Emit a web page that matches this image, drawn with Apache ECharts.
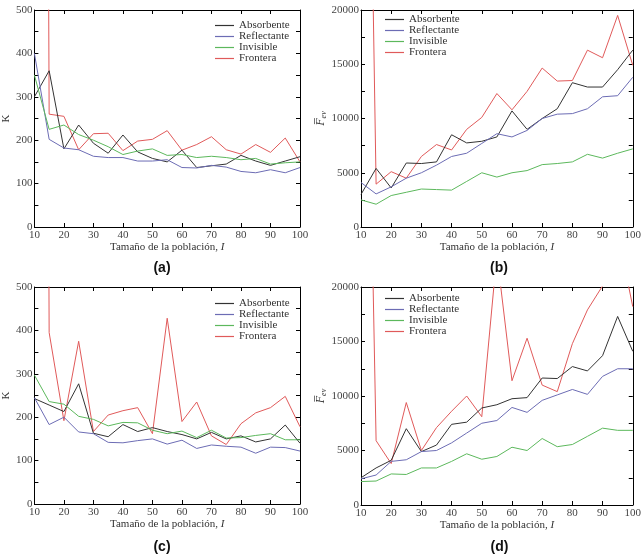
<!DOCTYPE html>
<html>
<head>
<meta charset="utf-8">
<title>Tamaño de la población</title>
<script src="https://cdn.jsdelivr.net/npm/echarts@6/dist/echarts.min.js"></script>
<style>
  html, body { margin: 0; padding: 0; background: #fff; }
  #chart { width: 644px; height: 554px; }
</style>
</head>
<body>
<div id="chart"></div>
<script>
/*******************************************************************/
/****************************** data *******************************/
/*******************************************************************/

// population sizes (x axis, shared by all panels)
const populationSizes = [10, 15, 20, 25, 30, 35, 40, 45, 50, 55, 60, 65, 70, 75, 80, 85, 90, 95, 100];
const seriesNames = ['Absorbente', 'Reflectante', 'Invisible', 'Frontera'];
const panelLabels = ['(a)', '(b)', '(c)', '(d)'];

// panel (a) : K
const absorbenteA = [300, 360, 180, 235, 193, 170, 212, 173, 158, 150, 177, 137, 141, 145, 165, 152, 142, 152, 162];
const reflectanteA = [400, 202, 182, 178, 163, 160, 160, 152, 152, 155, 137, 136, 142, 138, 128, 125, 132, 125, 137];
const invisibleA = [350, 225, 235, 213, 200, 185, 167, 175, 180, 165, 167, 160, 163, 160, 155, 158, 145, 148, 150];
const fronteraA = [8000, 260, 255, 178, 215, 216, 176, 198, 202, 222, 177, 190, 208, 178, 168, 190, 172, 205, 150];

// panel (b) : F_ev
const absorbenteB = [3000, 5400, 3600, 5900, 5850, 6000, 8500, 7750, 7900, 8300, 10700, 9000, 10000, 10900, 13300, 12900, 12900, 14500, 16300];
const reflectanteB = [4100, 3050, 3700, 4500, 5000, 5700, 6500, 6800, 7700, 8600, 8300, 8900, 10000, 10400, 10450, 10900, 12000, 12100, 13800];
const invisibleB = [2500, 2100, 2900, 3200, 3500, 3450, 3400, 4200, 5000, 4600, 5000, 5200, 5750, 5850, 6000, 6700, 6350, 6800, 7200];
const fronteraB = [90000, 3950, 5100, 4500, 6500, 7600, 7100, 9000, 10100, 12300, 10800, 12500, 14650, 13450, 13500, 16300, 15600, 19500, 14900];

// panel (c) : K
const absorbenteC = [243, 228, 213, 277, 163, 155, 183, 167, 176, 167, 160, 150, 165, 150, 157, 143, 150, 182, 140];
const reflectanteC = [245, 183, 200, 166, 162, 142, 141, 146, 150, 138, 147, 128, 136, 133, 131, 117, 131, 130, 122];
const invisibleC = [297, 236, 230, 202, 195, 180, 188, 187, 170, 162, 168, 153, 170, 152, 153, 158, 162, 148, 148];
const fronteraC = [8000, 395, 192, 375, 167, 205, 215, 222, 162, 428, 190, 235, 157, 137, 185, 210, 222, 248, 178];

// panel (d) : F_ev
const absorbenteD = [2500, 3400, 4100, 7000, 4900, 5500, 7400, 7600, 8900, 9200, 9750, 9850, 11650, 11600, 12700, 12300, 13700, 17300, 14100];
const reflectanteD = [2400, 2750, 4000, 4150, 4900, 5000, 5700, 6600, 7500, 7750, 8950, 8500, 9600, 10100, 10600, 10150, 11800, 12500, 12500];
const invisibleD = [2150, 2200, 2850, 2800, 3400, 3400, 4000, 4700, 4200, 4450, 5300, 5000, 6100, 5350, 5550, 6300, 7050, 6850, 6850];
const fronteraD = [78000, 5900, 3800, 9400, 5000, 7100, 8600, 10000, 8100, 23000, 11400, 15300, 11000, 10400, 14800, 17900, 20100, 25000, 18200];

/*******************************************************************/
/***************************** layout ******************************/
/*******************************************************************/

const lineColors = ['#333333', '#6c6cb4', '#5cb85c', '#e05a5a'];
const serif = '"Liberation Serif", "DejaVu Serif", serif';

const panels = [
  { grid: { left: 24, top: 10, width: 276, height: 217 }, yMax: 500, yStep: 50, yLabelStep: 100, yName: 'K',
    legend: { left: 215, top: 20 }, values: [absorbenteA, reflectanteA, invisibleA, fronteraA] },
  { grid: { left: 361, top: 10, width: 276, height: 217 }, yMax: 20000, yStep: 2500, yLabelStep: 5000, yName: 'F',
    legend: { left: 385, top: 14 }, values: [absorbenteB, reflectanteB, invisibleB, fronteraB] },
  { grid: { left: 24, top: 287, width: 276, height: 217 }, yMax: 500, yStep: 50, yLabelStep: 100, yName: 'K',
    legend: { left: 215, top: 298 }, values: [absorbenteC, reflectanteC, invisibleC, fronteraC] },
  { grid: { left: 361, top: 287, width: 277, height: 218 }, yMax: 20000, yStep: 2500, yLabelStep: 5000, yName: 'F',
    legend: { left: 385, top: 293 }, values: [absorbenteD, reflectanteD, invisibleD, fronteraD] },
];

const chart = echarts.init(document.getElementById('chart'), null, { renderer: 'canvas' });

const grids = [];
const xAxes = [];
const yAxes = [];
const series = [];
const legends = [];
const graphics = [];

const axisLine = { show: true, onZero: false, lineStyle: { color: '#000', width: 1 } };
const axisTick = { show: true, inside: true, length: 4, lineStyle: { color: '#000', width: 1 } };

panels.forEach(function (p, i) {
  grids.push(Object.assign({ containLabel: false, show: false }, p.grid));

  // bottom + top x axes
  xAxes.push({
    type: 'value', gridIndex: i, position: 'bottom', min: 10, max: 100, interval: 10,
    axisLine: axisLine, axisTick: axisTick, splitLine: { show: false },
    axisLabel: { color: '#444', fontFamily: serif, fontSize: 11, margin: 3 },
    name: '{n|Tamaño de la población, }{i|I}', nameLocation: 'middle', nameGap: 15,
    nameTextStyle: { rich: {
      n: { fontFamily: serif, fontSize: 11, color: '#333' },
      i: { fontFamily: serif, fontSize: 11, color: '#333', fontStyle: 'italic' },
    } },
  });
  xAxes.push({
    type: 'value', gridIndex: i, position: 'top', min: 10, max: 100, interval: 10,
    axisLine: axisLine, axisTick: axisTick, splitLine: { show: false }, axisLabel: { show: false },
  });

  // left + right y axes
  const yName = p.yName === 'K'
    ? '{k|K}'
    : '{f|F\u0305}{s|ev}';
  yAxes.push({
    type: 'value', gridIndex: i, position: 'left', min: 0, max: p.yMax, interval: p.yStep,
    axisLine: axisLine, axisTick: axisTick, splitLine: { show: false },
    axisLabel: {
      color: '#444', fontFamily: serif, fontSize: 11, margin: 2,
      formatter: function (v) { return v % p.yLabelStep === 0 ? String(v) : ''; },
    },
    name: yName, nameLocation: 'middle', nameGap: p.yName === 'K' ? 18 : 29, nameRotate: 90,
    nameTextStyle: { rich: {
      k: { fontFamily: serif, fontSize: 11, color: '#333' },
      f: { fontFamily: serif, fontSize: 12, color: '#333', fontStyle: 'italic' },
      s: { fontFamily: serif, fontSize: 8, color: '#333', fontStyle: 'italic', padding: [6, 0, 0, 0] },
    } },
  });
  yAxes.push({
    type: 'value', gridIndex: i, position: 'right', min: 0, max: p.yMax, interval: p.yStep,
    axisLine: axisLine, axisTick: axisTick, splitLine: { show: false }, axisLabel: { show: false },
  });

  // the four lines of this panel
  p.values.forEach(function (vals, s) {
    series.push({
      type: 'line', name: seriesNames[s],
      xAxisIndex: 2 * i, yAxisIndex: 2 * i,
      data: populationSizes.map(function (x, k) { return [x, vals[k]]; }),
      symbol: 'none', clip: true, z: s === 3 ? 1 : 2,
      lineStyle: { color: lineColors[s], width: 1 },
      itemStyle: { color: lineColors[s] },
      emphasis: { disabled: true },
    });
  });

  // legend: a thin rect per item, rows about 10.5px apart
  legends.push({
    data: seriesNames, orient: 'vertical', left: p.legend.left, top: p.legend.top,
    icon: 'rect', itemWidth: 19, itemHeight: 1.2, itemGap: 0, padding: 0, selectedMode: false,
    textStyle: { fontFamily: serif, fontSize: 11, color: '#333', lineHeight: 10.5 },
  });

  graphics.push({
    type: 'text',
    x: p.grid.left + p.grid.width / 2, y: i < 2 ? 268 : 547,
    style: { text: panelLabels[i], font: 'bold 14px "Liberation Sans", Arial, sans-serif',
      fill: '#111', textAlign: 'center', textVerticalAlign: 'middle' },
  });
});

chart.setOption({
  animation: false,
  grid: grids,
  xAxis: xAxes,
  yAxis: yAxes,
  legend: legends,
  series: series,
  graphic: graphics,
});
</script>
</body>
</html>
